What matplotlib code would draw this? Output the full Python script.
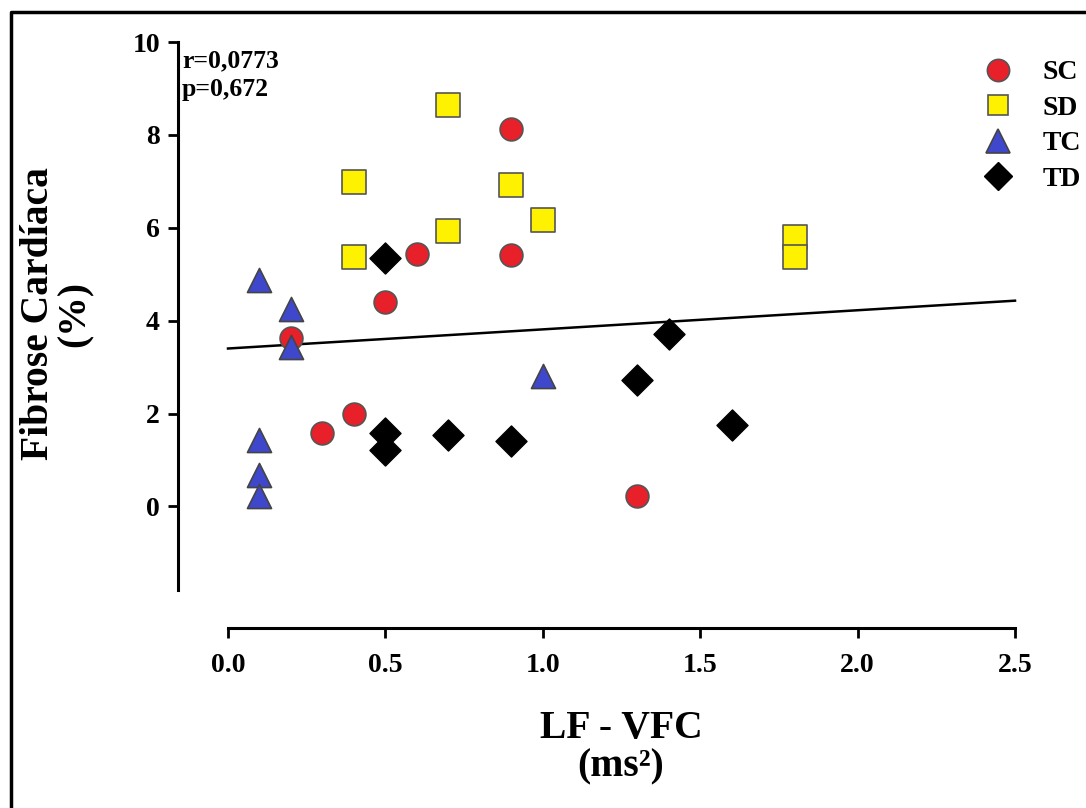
import matplotlib
matplotlib.use('Agg')
import matplotlib.pyplot as plt
from matplotlib.lines import Line2D

# ---- data ----
sc_x = [0.2, 0.3, 0.4, 0.5, 0.6, 0.9, 0.9, 1.3]
sc_y = [3.63, 1.59, 2.0, 4.41, 5.44, 8.13, 5.42, 0.22]

sd_x = [0.4, 0.4, 0.7, 0.7, 0.9, 1.0, 1.8, 1.8]
sd_y = [6.99, 5.38, 8.65, 5.94, 6.92, 6.17, 5.80, 5.38]

tc_x = [0.1, 0.2, 0.2, 0.1, 0.1, 0.1, 1.0]
tc_y = [4.88, 4.26, 3.44, 1.44, 0.67, 0.22, 2.80]

td_x = [0.5, 0.5, 0.5, 0.7, 0.9, 1.3, 1.4, 1.6]
td_y = [5.35, 1.59, 1.22, 1.53, 1.40, 2.73, 3.72, 1.76]

fit_x = [0.0, 2.5]
fit_y = [3.40, 4.43]

stats_text = "r=0,0773\np=0,672"
x_ticks = [0.0, 0.5, 1.0, 1.5, 2.0, 2.5]
y_ticks = [0, 2, 4, 6, 8, 10]
group_labels = ["SC", "SD", "TC", "TD"]

# ---- style ----
plt.rcParams['font.family'] = ['Liberation Serif', 'DejaVu Serif']
plt.rcParams['font.weight'] = 'bold'

W, H = 1086, 808
fig = plt.figure(figsize=(W / 100, H / 100), dpi=100)
ax = fig.add_axes([228 / W, 1 - 590 / H, 787 / W, 548 / H])

ax.set_xlim(0, 2.5)
ax.set_ylim(-1.8, 10)

for s in ['top', 'right']:
    ax.spines[s].set_visible(False)
ax.spines['left'].set_position(('outward', 36))
ax.spines['bottom'].set_position(('outward', 27.4))
for s in ['left', 'bottom']:
    ax.spines[s].set_linewidth(2.2)

ax.set_xticks(x_ticks)
ax.set_xticklabels([f"{v:.1f}" for v in x_ticks])
ax.set_yticks(y_ticks)
ax.set_yticklabels([str(v) for v in y_ticks])
ax.tick_params(direction='out', length=7, width=2, labelsize=20)
ax.tick_params(axis='x', pad=11)
ax.tick_params(axis='y', pad=6)
for lab in ax.get_xticklabels() + ax.get_yticklabels():
    lab.set_fontweight('bold')

ax.plot(fit_x, fit_y, color='black', lw=1.8, zorder=2, clip_on=False)

kw = dict(clip_on=False, zorder=3)
ax.scatter(sc_x, sc_y, s=270, marker='o', c='#e8202a', edgecolors='#555555', linewidths=1.2, **kw)
ax.scatter(sd_x, sd_y, s=280, marker='s', c='#fff200', edgecolors='#555555', linewidths=1.2, **kw)
ax.scatter(tc_x, tc_y, s=300, marker='^', c='#3f48cc', edgecolors='#444444', linewidths=1.2, **kw)
ax.scatter(td_x, td_y, s=250, marker='D', c='black', edgecolors='black', linewidths=1.0, **kw)

ax.text(182 / W, 1 - 75 / H, stats_text, transform=fig.transFigure,
        fontsize=18.5, fontweight='bold', va='center', ha='left', linespacing=1.35)

# legend
handles = [
    Line2D([], [], ls='', marker='o', ms=16, mfc='#e8202a', mec='#555555', mew=1.2),
    Line2D([], [], ls='', marker='s', ms=15, mfc='#fff200', mec='#555555', mew=1.2),
    Line2D([], [], ls='', marker='^', ms=17, mfc='#3f48cc', mec='#444444', mew=1.2),
    Line2D([], [], ls='', marker='D', ms=14, mfc='black', mec='black'),
]
fig.legend(handles, group_labels, loc='upper left', bbox_to_anchor=(969 / W, 1 - 46 / H),
           frameon=False, prop={'family': 'Liberation Serif', 'weight': 'bold', 'size': 20},
           labelspacing=0.36, handletextpad=1.05, borderpad=0, handlelength=1.1)

# axis labels
fig.text(57 / W, 1 - 314 / H, "Fibrose Cardíaca\n(%)", rotation=90, ha='center', va='center',
         fontsize=28.5, fontweight='bold', multialignment='center', linespacing=1.0)
fig.text(621 / W, 1 - 748 / H, "LF - VFC\n(ms²)", ha='center', va='center',
         fontsize=28.5, fontweight='bold', multialignment='center', linespacing=1.05)

# outer frame (partially visible)
fig.add_artist(Line2D([11 / W, 11 / W, 1.0], [0, 1 - 12 / H, 1 - 12 / H],
                      transform=fig.transFigure, color='black', lw=2.5))

fig.savefig('out.png', dpi=100)
